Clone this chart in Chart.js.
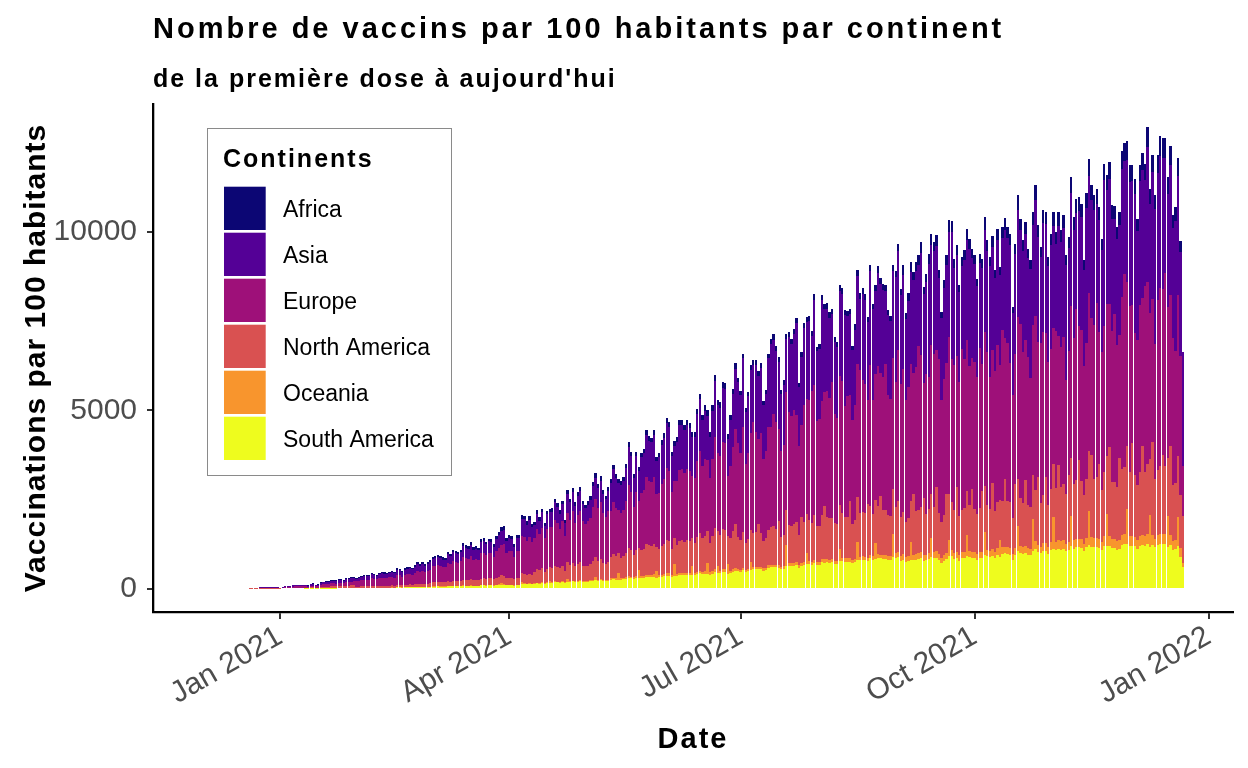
<!DOCTYPE html>
<html><head><meta charset="utf-8">
<script src="https://cdn.jsdelivr.net/npm/chart.js@4.4.1/dist/chart.umd.min.js"></script>
<style>html,body{margin:0;padding:0;background:#fff;}canvas{display:block;}</style>
</head><body>
<canvas id="c" width="1248" height="768"></canvas>
<script>
// ---------- DATA ----------
const titleText = "Nombre de vaccins par 100 habitants par continent";
const subtitleText = "de la première dose à aujourd'hui";
const xTitle = "Date";
const yTitle = "Vaccinations par 100 habitants";
const legendTitle = "Continents";
const continents = ["Africa", "Asia", "Europe", "North America", "Oceania", "South America"];
const colors = ["#0C0674", "#540096", "#9E1079", "#D95151", "#F8952D", "#EEFC1E"];
const firstDate = "2020-12-02";           // one bar per day from this date
const tickDates = ["2021-01-01", "2021-04-01", "2021-07-01", "2021-10-01", "2022-01-01"];
const tickLabels = ["Jan 2021", "Apr 2021", "Jul 2021", "Oct 2021", "Jan 2022"];
const yTicks = [0, 5000, 10000];

const southAmerica = [
0,0,0,0,0,0,0,0,0,0,0,0,0,0,0,0,0,0,0,0,0,0,0,0,0,0,0,0,0,0,
0,0,0,0,0,0,0,0,0,0,2,2,3,3,3,4,5,5,6,6,7,8,8,9,10,10,12,12,14,15,
16,18,19,21,22,23,26,25,25,28,30,30,29,32,34,32,38,38,35,40,42,44,42,47,52,50,53,51,55,58,
62,64,66,64,62,62,72,68,75,73,72,76,86,84,82,88,80,83,80,95,96,90,96,96,88,102,110,116,118,100,106,105,92,108,108,142,141,132,142,130,
135,155,145,160,140,160,165,168,185,178,168,185,155,200,190,205,185,200,210,192,188,195,205,228,242,228,240,220,212,230,
250,265,258,255,255,262,280,305,295,275,300,290,305,312,335,330,330,342,315,320,338,348,368,365,335,350,356,378,382,378,388,386,378,380,410,430,410,422,418,395,425,465,438,438,465,468,405,430,465,495,
500,480,530,470,500,540,550,555,545,560,510,530,585,600,610,600,590,550,565,630,640,635,650,665,590,640,680,690,695,680,730,670,675,740,735,740,730,740,705,700,780,780,760,760,765,720,750,820,800,810,805,780,850,810,835,860,850,845,845,820,815,880,875,905,
780,820,740,770,820,800,820,830,850,780,800,840,880,860,870,810,730,790,840,910,910,840,870,790,850,860,910,890,870,860,810,870,860,950,910,880,930,860,950,880,970,990,975,960,820,950,1060,1010,970,1010,960,940,1050,1110,1030,990,1070,1070,980,
1080,1120,1090,1120,1100,1130,1050,1080,1190,1130,1160,1160,1150,1050,1170,1230,1180,1170,1180,1140,1080,1210,1190,1210,1140,1140,1100,1130,1240,1250,1250,1210,1210,1190,1120,1210,1230,1210,1260,1170,1230,1160,1230,1250,1250,1250,1180,1230,1100,1120,1200,900,610
];
const oceania = [
0,0,0,0,0,0,0,0,0,0,0,0,0,0,0,0,0,0,0,0,0,0,0,0,0,0,0,0,0,0,
0,0,0,0,0,0,0,0,0,0,0,0,0,0,0,0,0,0,0,0,0,0,0,0,0,0,0,0,0,0,
2,2,2,2,2,2,2,2,2,2,3,3,3,3,3,3,3,3,3,3,5,5,5,5,5,5,5,5,5,5,
8,8,8,8,8,8,8,8,8,8,8,8,8,8,8,8,8,8,8,8,12,12,12,12,12,12,12,40,12,12,12,12,12,12,12,35,12,12,12,12,
20,20,20,20,20,20,60,20,20,20,25,25,25,70,25,25,25,25,50,25,30,30,30,30,90,30,30,30,30,30,
45,45,50,200,45,50,50,55,50,50,55,250,55,55,60,60,60,60,180,55,60,60,65,65,60,350,60,65,65,65,65,65,250,65,70,75,70,70,300,65,70,80,200,75,80,80,300,70,80,85,
60,60,65,60,60,200,65,65,65,65,60,60,70,70,70,70,70,65,65,600,75,75,75,80,70,75,80,300,80,80,90,80,80,90,90,90,90,90,85,85,350,95,95,95,95,85,90,500,100,100,100,95,110,100,450,110,110,110,110,100,100,650,115,120,
150,160,140,150,500,160,165,170,175,155,160,170,550,175,180,165,140,155,170,450,190,170,175,155,170,175,600,180,175,170,160,175,170,650,180,170,185,165,190,500,190,195,190,190,150,185,700,200,190,200,185,180,900,220,200,190,210,210,180,
220,900,230,240,230,240,210,220,850,240,250,250,245,210,250,950,260,250,255,245,220,270,900,270,245,245,230,240,280,285,1000,270,270,260,235,270,280,270,290,900,280,250,280,290,290,290,850,280,240,245,800,250,120
];
const northAmerica = [
0,0,0,0,0,0,0,0,0,0,0,0,0,0,0,0,0,0,1,2,2,2,4,5,6,5,5,6,6,4,
8,13,19,21,23,27,29,28,29,30,31,24,36,38,30,32,48,50,53,55,63,63,60,68,70,62,75,75,80,82,
38,41,44,46,46,47,53,49,48,54,56,55,53,57,60,56,70,67,60,69,71,74,70,79,89,83,89,82,88,95,
115,118,123,118,112,111,134,126,142,137,132,142,167,160,156,169,150,156,149,183,185,172,184,182,162,193,209,221,230,185,195,192,161,195,195,268,269,248,267,240,
324,386,349,393,321,381,386,395,444,420,383,432,331,476,442,498,422,473,496,431,409,427,450,523,557,514,552,480,453,496,
591,669,618,556,576,598,673,798,741,614,739,608,731,755,863,825,817,862,678,728,800,843,930,903,730,730,816,911,914,881,913,894,799,839,973,1058,933,990,910,836,989,1163,992,1005,1120,1113,772,928,1079,1226,
892,831,997,755,823,917,962,961,1200,948,779,829,987,1054,1072,1019,1250,825,866,982,1078,1047,1091,1140,849,1300,1112,1101,1144,1077,1238,1004,1013,1233,1500,1193,1152,1167,1042,1018,1229,1257,1158,1154,1600,999,1092,1265,1228,1251,1224,1500,1351,1176,1199,1341,1650,1262,1259,1146,1121,1254,1316,1435,
1095,1175,1001,1074,1134,1700,1189,1214,1259,1600,1148,1215,1230,1264,1800,1160,1008,1124,1650,1295,1334,1199,1800,1105,1203,1228,1241,1268,1750,1211,1127,1213,1700,1271,1259,1200,1850,1153,1296,1112,1301,1900,1300,1275,1013,1800,1331,1326,1248,1850,1217,1176,1239,1434,1900,1220,1347,1850,1182,
1499,1469,1503,2100,1510,1573,1406,1900,1629,1564,1643,2200,1623,1382,1667,1692,2300,1658,1686,2100,1478,1795,1634,2500,1619,1616,1526,2300,1843,1882,1759,1787,2600,1732,1560,1791,2500,1795,1949,1568,2600,1661,1825,1906,2200,1899,1629,2500,1579,1612,1724,1492,1300
];
const europe = [
0,0,0,0,0,0,0,0,0,0,0,0,0,0,0,0,0,0,2,3,4,4,9,10,11,10,10,12,11,8,
11,18,25,28,30,35,38,37,38,40,41,32,47,51,40,43,63,67,70,73,83,83,80,90,93,82,99,99,105,108,
150,165,175,184,184,188,213,198,192,217,226,220,210,229,239,224,278,268,238,277,285,295,280,314,358,333,358,327,351,381,
445,455,476,455,434,429,517,487,549,528,512,549,644,617,601,654,581,601,575,707,716,663,710,705,625,746,809,856,888,713,755,744,623,754,754,1037,1039,960,1034,928,
940,1119,1012,1139,931,1105,1119,1146,1288,1219,1110,1252,959,1380,1282,1443,1224,1373,1437,1249,1186,1238,1306,1518,1616,1489,1601,1393,1313,1438,
1289,1459,1347,1212,1258,1304,1469,1740,1616,1341,1611,1326,1595,1648,1883,1801,1782,1880,1480,1588,1746,1839,2029,1969,1593,1592,1780,1987,1994,1921,1992,1950,1743,1831,2124,2308,2035,2160,1986,1824,2159,2537,2165,2192,2444,2428,1683,2026,2354,2675,
2623,2445,2933,2220,2420,2698,3100,2826,2397,2789,2293,2439,2901,2800,3154,2997,2576,2427,2546,3300,3170,3080,3210,3000,2498,2581,3270,3239,3366,3700,3643,2952,2979,3200,3193,3510,3387,3800,3064,2993,3614,3698,3100,3394,2978,2940,3211,3720,4000,3680,3600,2917,3974,3200,3527,3944,3433,3712,4100,3372,3296,3689,3500,4221,
3723,3993,3402,3652,3856,3382,4042,4600,4281,3235,3902,3700,4182,4297,3850,4300,3427,3822,3683,4401,4000,4075,3682,3756,4500,4174,4218,3900,3679,4116,3830,4500,3561,4320,4279,3700,3737,3919,4406,3779,4800,3957,4419,3900,3442,3648,4524,4900,4243,3918,4139,3600,4213,4876,3802,4500,4580,4050,4019,
3915,3835,4400,3633,3943,4108,3200,3463,4254,4084,4800,3761,4237,3610,3800,4418,3843,4329,4900,3714,3859,4100,4268,4013,4228,4700,3986,3439,4813,5400,4592,4667,3868,4000,4073,4677,4149,5200,5090,4094,4004,3800,4766,4977,4658,5400,4254,4234,4122,3700,4503,3896,1400
];
const asia = [
0,0,0,0,0,0,0,0,0,0,0,0,0,0,0,0,0,0,7,10,14,14,32,35,38,35,35,42,38,28,
10,17,23,27,28,33,37,34,37,38,38,30,44,48,38,41,60,63,66,70,79,78,75,84,87,78,93,93,99,102,
80,88,93,99,98,101,114,106,103,116,121,118,112,123,127,120,149,143,127,149,153,157,150,168,192,179,192,175,188,205,
208,212,222,212,203,200,241,226,256,246,239,255,299,287,280,305,271,280,268,329,333,309,330,328,291,347,376,399,413,332,352,347,290,351,351,483,484,448,481,432,
356,425,384,432,354,420,424,435,488,463,420,474,364,524,487,547,464,521,545,473,449,470,495,576,613,565,607,529,498,546,
805,912,842,757,786,814,918,1087,1010,838,1007,828,996,1030,1177,1126,1114,1174,925,993,1092,1150,1268,1231,996,994,1112,1241,1247,1201,1244,1219,1090,1145,1327,1443,1272,1350,1241,1140,1349,1585,1353,1370,1527,1518,1052,1266,1472,1671,
1730,1614,1935,1465,1597,1780,1595,1865,1771,1841,1513,1610,1915,2346,2081,1978,1884,1601,1681,1495,2093,2033,2118,2563,1648,1911,2159,2138,2222,1558,2404,1948,1966,2822,2312,2317,2236,1896,2023,1976,2386,2441,2551,2241,2255,1940,2119,2456,1996,2430,2376,2176,2623,2544,2329,2604,2503,2450,2045,2226,2175,2435,2926,2786,
2482,2662,2268,2434,2570,2618,2694,2276,2855,2490,2600,3185,2788,2864,2910,2275,2285,2549,2747,2934,3556,2716,2823,2504,2317,2783,2811,3282,2796,2743,2553,2372,2709,2879,2852,3100,2878,2613,2938,2519,2569,3018,2946,3325,2295,2807,3015,2614,2829,2972,2759,3064,2808,3250,2938,2410,3053,3040,2679,
2916,2856,2447,3087,2937,3059,3204,2887,3167,3042,2687,3209,3155,2688,3793,3290,3307,3223,2779,3131,2873,4075,3178,3507,3148,2659,2968,3091,3584,3173,3419,3476,3482,3888,3032,3482,3581,2975,3791,3048,3556,3769,3549,3707,3692,3251,3167,3626,3069,3643,3353,2902,3220
];
const africa = [
0,0,0,0,0,0,0,0,0,0,0,0,0,0,0,0,0,0,0,0,0,0,0,0,0,0,0,0,0,0,
1,2,3,4,4,5,6,6,6,7,8,7,10,10,9,10,14,15,15,16,18,18,17,19,20,18,21,21,22,23,
24,26,27,28,28,29,32,30,30,33,34,34,33,36,37,35,42,41,37,42,44,45,43,47,54,50,53,50,53,56,
62,63,65,63,61,60,68,65,70,68,67,70,76,74,73,76,70,72,70,78,78,74,78,77,72,80,84,88,89,78,80,80,72,80,80,95,95,90,94,88,
85,95,90,96,84,94,96,96,105,100,94,102,86,110,104,112,100,108,112,100,98,100,104,115,122,114,120,108,104,110,
100,110,105,100,100,102,110,125,118,102,118,108,118,120,132,128,127,132,112,116,124,130,140,137,116,124,126,138,138,134,138,136,130,130,146,156,140,148,145,130,148,170,152,150,164,163,128,140,160,178,
115,110,130,100,110,125,128,128,122,127,105,112,132,140,143,136,130,112,117,143,144,140,146,152,115,133,149,152,153,145,165,136,137,165,160,160,155,157,141,138,171,169,156,156,157,136,148,179,166,169,165,152,182,160,170,181,174,171,171,156,153,182,178,193,
180,260,170,200,280,220,250,260,300,200,220,280,320,260,300,220,170,210,260,340,320,250,280,200,260,270,320,290,260,250,210,260,250,350,290,250,300,220,320,230,320,340,320,300,180,280,400,330,290,330,270,250,350,420,320,270,350,340,260,
320,380,330,380,330,360,280,310,450,360,400,400,380,270,420,480,420,400,420,370,300,460,430,460,370,370,330,360,500,520,530,460,460,430,350,460,490,460,560,420,500,410,500,560,560,560,460,530,360,380,500,300,0
];

// ---------- CHART ----------
const FONT = '"Liberation Sans", Arial, Helvetica, sans-serif';
Chart.defaults.font.family = FONT;
const DAY = 86400000;
const origin = Date.parse("2021-01-01T00:00:00Z");
const firstDay = (Date.parse(firstDate + "T00:00:00Z") - origin) / DAY;
const days = southAmerica.map((_, i) => firstDay + i);
const tickDays = tickDates.map(d => (Date.parse(d + "T00:00:00Z") - origin) / DAY);
const seriesByName = {"Africa": africa, "Asia": asia, "Europe": europe, "North America": northAmerica, "Oceania": oceania, "South America": southAmerica};

const datasets = continents.slice().reverse().map(name => ({
  label: name,
  data: seriesByName[name],
  backgroundColor: colors[continents.indexOf(name)],
  borderWidth: 0,
  inflateAmount: 0,
  barPercentage: 0.9,
  categoryPercentage: 1.0
}));

// snap bar edges to whole pixels (crisp raster look, like the reference)
const snap = {
  id: 'snap',
  afterDatasetsUpdate(chart) {
    chart.data.datasets.forEach((ds, i) => {
      chart.getDatasetMeta(i).data.forEach(el => {
        const half = el.width / 2;
        const L = Math.round(el.x - half), R = Math.round(el.x + half);
        el.x = (L + R) / 2; el.width = R - L;
        el.y = Math.round(el.y); el.base = Math.round(el.base);
      });
    });
  }
};

const decor = {
  id: 'decor',
  afterDraw(chart) {
    const ctx = chart.ctx;
    const area = chart.chartArea;
    ctx.save();
    ctx.fillStyle = '#000';
    ctx.textBaseline = 'alphabetic';
    ctx.textAlign = 'left';
    ctx.font = 'bold 29px ' + FONT;
    ctx.letterSpacing = '3px';
    ctx.fillText(titleText, 153, 38);
    ctx.font = 'bold 25px ' + FONT;
    ctx.letterSpacing = '2px';
    ctx.fillText(subtitleText, 153, 87);
    ctx.font = 'bold 29px ' + FONT;
    ctx.letterSpacing = '2px';
    ctx.textAlign = 'center';
    ctx.fillText(xTitle, (area.left + area.right) / 2, 748);
    ctx.save();
    ctx.translate(45, (area.top + area.bottom) / 2);
    ctx.rotate(-Math.PI / 2);
    ctx.font = 'bold 30px ' + FONT;
    ctx.letterSpacing = '1px';
    ctx.fillText(yTitle, 0, 0);
    ctx.restore();
    ctx.letterSpacing = '0px';
    ctx.lineWidth = 1;
    ctx.strokeStyle = '#8a8a8a';
    ctx.fillStyle = '#fff';
    ctx.fillRect(207.5, 128.5, 244, 347);
    ctx.strokeRect(207.5, 128.5, 244, 347);
    ctx.fillStyle = '#000';
    ctx.textAlign = 'left';
    ctx.font = 'bold 25px ' + FONT;
    ctx.letterSpacing = '2px';
    ctx.fillText(legendTitle, 223, 167);
    ctx.letterSpacing = '0px';
    ctx.font = '23px ' + FONT;
    continents.forEach((name, i) => {
      const top = 186.7 + i * 46;
      ctx.fillStyle = colors[i];
      ctx.fillRect(224, top, 41.7, 43.3);
      ctx.fillStyle = '#000';
      ctx.fillText(name, 283, top + 30);
    });
    ctx.restore();
  }
};

new Chart(document.getElementById('c'), {
  type: 'bar',
  data: { labels: days, datasets },
  options: {
    responsive: false,
    animation: false,
    devicePixelRatio: 1,
    layout: { padding: { top: 104, right: 15, left: 0, bottom: 0 } },
    plugins: { legend: { display: false }, tooltip: { enabled: false }, title: { display: false } },
    scales: {
      x: {
        type: 'linear', stacked: true, min: -50, max: 374.6, offset: false,
        afterBuildTicks: s => { s.ticks = tickDays.map(v => ({ value: v })); },
        afterFit: s => { s.height = 156; },
        ticks: {
          autoSkip: false, minRotation: 30, maxRotation: 30, padding: 0,
          color: '#4D4D4D', font: { size: 30 },
          callback: v => tickLabels[tickDays.indexOf(v)]
        },
        grid: { display: true, offset: false, drawOnChartArea: false, drawTicks: true, tickLength: 7, color: '#333333', lineWidth: 2 },
        border: { display: true, color: '#000', width: 2.3 }
      },
      y: {
        stacked: true, min: -650, max: 13590,
        afterBuildTicks: s => { s.ticks = yTicks.map(v => ({ value: v })); },
        afterFit: s => { s.width = 153; },
        ticks: { color: '#4D4D4D', font: { size: 30 }, padding: 10, callback: v => String(v) },
        grid: { display: true, drawOnChartArea: false, drawTicks: true, tickLength: 6, color: '#333333', lineWidth: 2 },
        border: { display: true, color: '#000', width: 2.3 }
      }
    }
  },
  plugins: [snap, decor]
});
</script>
</body></html>
